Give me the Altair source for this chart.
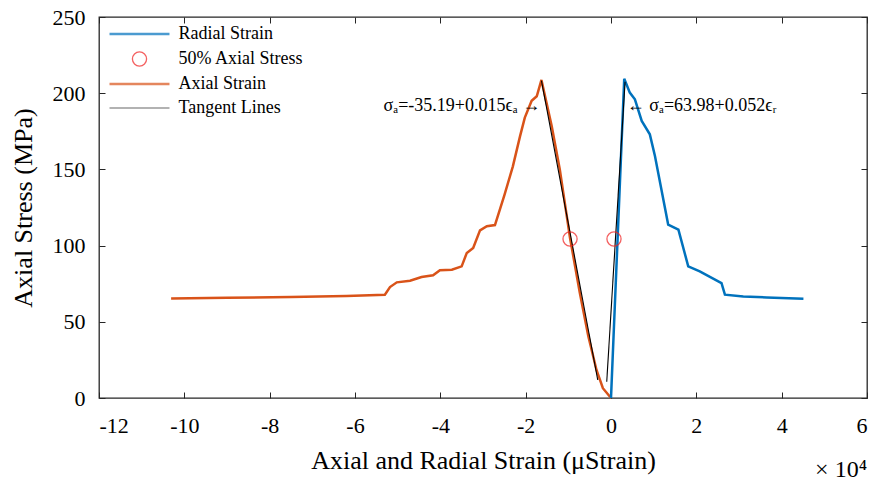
import altair as alt
import pandas as pd

# ---- data (strain in units of 10^4 microstrain, stress in MPa) ----
axial_x = [-10.31, -9.0, -7.5, -6.2, -5.30, -5.18, -5.02, -4.71, -4.44, -4.17, -4.01, -3.73,
           -3.50, -3.38, -3.23, -3.07, -2.91, -2.72, -2.50, -2.30, -2.13, -2.02, -1.86, -1.74,
           -1.63, -1.39, -1.20, -0.96, -0.73, -0.53, -0.34, -0.19, 0.0]
axial_y = [65.3, 65.8, 66.3, 67.0, 67.8, 72.8, 75.9, 77.0, 79.4, 80.5, 83.8, 84.2,
           86.4, 95.2, 98.5, 110.0, 112.7, 113.5, 133.0, 152.0, 172.0, 184.0, 195.0, 198.0,
           208.7, 178.5, 150.0, 105.0, 68.9, 40.3, 18.4, 6.4, 0.0]

radial_x = [0.0, 0.31, 0.36, 0.44, 0.56, 0.72, 0.91, 1.03, 1.34, 1.58, 1.81, 2.08,
            2.59, 2.67, 3.10, 3.65, 4.51]
radial_y = [0.0, 209.5, 206.0, 200.4, 196.0, 181.8, 173.0, 158.8, 113.8, 110.5, 86.4, 83.1,
            75.4, 67.8, 66.6, 66.0, 65.1]

tangent_id = ["axial", "axial", "radial", "radial"]
tangent_x = [-1.63, -0.31, -0.10, 0.33]
tangent_y = [208.2, 11.8, 10.7, 207.5]

half_x = [-0.96, 0.07]
half_y = [104.3, 104.3]

legend_labels = ["Radial Strain", "50% Axial Stress", "Axial Strain", "Tangent Lines"]
legend_colors = ["#0072BD", "#F01E1E", "#D95319", "#262626"]

ann_left_x, ann_left_y, ann_left_text = [-1.66], [188.0], ["σₐ=-35.19+0.015ϵₐ →"]
ann_right_x, ann_right_y, ann_right_text = [0.37], [188.0], ["← σₐ=63.98+0.052ϵᵣ"]

x_ticks = [-12, -10, -8, -6, -4, -2, 0, 2, 4, 6]
y_ticks = [0, 50, 100, 150, 200, 250]

FONT = "Liberation Serif"
W, H = 768, 381

axial_df = pd.DataFrame({"x": axial_x, "y": axial_y})
radial_df = pd.DataFrame({"x": radial_x, "y": radial_y})
tangent_df = pd.DataFrame({"id": tangent_id, "x": tangent_x, "y": tangent_y})
half_df = pd.DataFrame({"x": half_x, "y": half_y, "series": ["50% Axial Stress"] * len(half_x)})

xs = alt.Scale(domain=[-12, 6], nice=False, zero=False)
ys = alt.Scale(domain=[0, 250], nice=False, zero=False)

common_lbl = dict(labelFont=FONT, labelFontSize=22, labelColor="black",
                  titleFont=FONT, titleFontSize=26, titleFontWeight="normal", titleColor="black",
                  grid=False, domain=False)

x_lab_axis = alt.Axis(orient="bottom", values=x_ticks, ticks=False, labelPadding=17,
                      labelExpr="'' + datum.value",
                      title="Axial and Radial Strain (μStrain)",
                      titleX=W / 2, titleY=70, titleBaseline="alphabetic", titleAlign="center",
                      **common_lbl)
y_lab_axis = alt.Axis(orient="left", values=y_ticks, ticks=False, labelPadding=14,
                      labelExpr="'' + datum.value",
                      title="Axial Stress (MPa)", titleX=-76, titleY=H / 2, titleAngle=-90,
                      titleAlign="center", titleBaseline="middle",
                      **common_lbl)

tick_common = dict(labels=False, domain=False, grid=False, ticks=True, tickSize=6,
                   tickColor="#262626", tickWidth=1, title=None)
x_bot_ticks = alt.Axis(orient="bottom", values=x_ticks, offset=-6, **tick_common)
x_top_ticks = alt.Axis(orient="top", values=x_ticks, offset=-6, **tick_common)
y_left_ticks = alt.Axis(orient="left", values=y_ticks, offset=-6, **tick_common)
y_right_ticks = alt.Axis(orient="right", values=y_ticks, offset=-6, **tick_common)

axial = alt.Chart(axial_df).mark_line(color="#D95319", strokeWidth=2.5).encode(
    x=alt.X("x:Q", scale=xs, axis=x_lab_axis),
    y=alt.Y("y:Q", scale=ys, axis=y_lab_axis),
    order="idx:Q",
).transform_window(idx="row_number()")

radial = alt.Chart(radial_df).mark_line(color="#0072BD", strokeWidth=2.5).encode(
    x=alt.X("x:Q", scale=xs, axis=x_bot_ticks),
    y=alt.Y("y:Q", scale=ys, axis=y_left_ticks),
    order="idx:Q",
).transform_window(idx="row_number()")

tangent = alt.Chart(tangent_df).mark_line(color="black", strokeWidth=1.1).encode(
    x=alt.X("x:Q", scale=xs, axis=x_top_ticks),
    y=alt.Y("y:Q", scale=ys, axis=y_right_ticks),
    detail="id:N",
)

line_sym = "M-4.24,0H4.24"
legend = alt.Legend(title=None, orient="none", legendX=31.5, legendY=8,
                    labelFont=FONT, labelFontSize=18, labelColor="black",
                    symbolSize=200, labelOffset=30, rowPadding=6)

half = alt.Chart(half_df).mark_point(filled=False, size=200).encode(
    x=alt.X("x:Q", scale=xs, axis=None),
    y=alt.Y("y:Q", scale=ys, axis=None),
    color=alt.Color("series:N", scale=alt.Scale(domain=legend_labels, range=legend_colors), legend=legend),
    shape=alt.Shape("series:N", scale=alt.Scale(domain=legend_labels,
                                                range=[line_sym, "circle", line_sym, line_sym]), legend=legend),
    strokeWidth=alt.StrokeWidth("series:N", scale=alt.Scale(type="ordinal", domain=legend_labels,
                                                            range=[2.5, 1.3, 2.5, 1.2]), legend=legend),
)

ann_l = alt.Chart(pd.DataFrame({"x": ann_left_x, "y": ann_left_y, "t": ann_left_text})).mark_text(
    font=FONT, fontSize=18, align="right", baseline="alphabetic", color="black"
).encode(x=alt.X("x:Q", scale=xs, axis=None), y=alt.Y("y:Q", scale=ys, axis=None), text="t:N")

ann_r = alt.Chart(pd.DataFrame({"x": ann_right_x, "y": ann_right_y, "t": ann_right_text})).mark_text(
    font=FONT, fontSize=18, align="left", baseline="alphabetic", color="black"
).encode(x=alt.X("x:Q", scale=xs, axis=None), y=alt.Y("y:Q", scale=ys, axis=None), text="t:N")

exp_df = pd.DataFrame({"x": [6], "t": ["× 10⁴"]})
exp_txt = alt.Chart(exp_df).mark_text(
    font=FONT, fontSize=24, align="right", baseline="alphabetic", color="black"
).encode(x=alt.X("x:Q", scale=xs, axis=None), y=alt.value(H + 79), text="t:N")

chart = alt.layer(axial, radial, tangent, half, ann_l, ann_r, exp_txt).resolve_axis(
    x="independent", y="independent"
).properties(
    width=W, height=H,
    autosize=alt.AutoSizeParams(type="none"),
    padding={"left": 99, "top": 17, "right": 9, "bottom": 83},
    background="white",
).configure_view(stroke="#262626", strokeWidth=1.3)

chart.save("out.html", embed_options={"renderer": "svg", "actions": False})
